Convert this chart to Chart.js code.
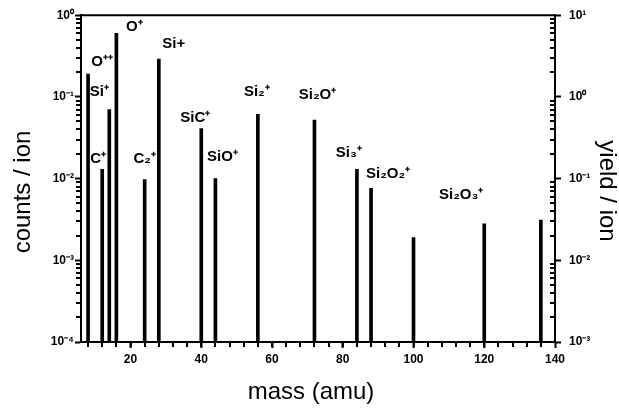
<!DOCTYPE html>
<html>
<head>
<meta charset="utf-8">
<script src="https://cdn.jsdelivr.net/npm/chart.js@4"></script>
<style>
  html, body { margin: 0; padding: 0; background: #fff; }
</style>
</head>
<body>
<canvas id="chart" width="619" height="411"></canvas>
<script>
// peaks (mass in amu, counts per ion)
const masses       = [8, 12, 14, 16, 24, 28, 40, 44, 56, 72, 84, 88, 100, 120, 136];
const countsPerIon = [0.19, 0.013, 0.07, 0.6, 0.0097, 0.29, 0.041, 0.010, 0.061, 0.052, 0.013, 0.0076, 0.0019, 0.0028, 0.0031];
const peakLabels   = ['O⁺⁺', 'C⁺', 'Si⁺', 'O⁺', 'C₂⁺', 'Si+', 'SiC⁺', 'SiO⁺', 'Si₂⁺', 'Si₂O⁺', 'Si₃⁺', 'Si₂O₂⁺', '', 'Si₂O₃⁺', ''];

const leftDecades   = [1e-4, 1e-3, 1e-2, 1e-1, 1];
const leftLabels    = ['10⁻⁴', '10⁻³', '10⁻²', '10⁻¹', '10⁰'];
const rightDecades  = [1e-3, 1e-2, 1e-1, 1, 10];
const rightLabels   = ['10⁻³', '10⁻²', '10⁻¹', '10⁰', '10¹'];
const massTicks     = [20, 40, 60, 80, 100, 120, 140];

// label nudges in px from the top of each bar
const labelOffsets = [[14,-12],[-4,-10],[-10,-18],[18,-6],[0,-21],[15,-15],[-6,-11],[7,-22],[-1,-23],[3,-25],[-8,-16],[17,-14],[0,0],[-23,-29],[0,0]];

const FONT = "'Liberation Sans', Arial, sans-serif";

const decadeLabel = (v, decades, labels) => {
  const i = decades.findIndex(d => Math.abs(Math.log10(v) - Math.log10(d)) < 1e-6);
  return i >= 0 ? labels[i] : '';
};

const frame = {
  id: 'frame',
  afterDraw(chart) {
    const { ctx, chartArea: a, scales } = chart;
    const seg = (x1, y1, x2, y2) => {
      ctx.beginPath(); ctx.moveTo(x1, y1); ctx.lineTo(x2, y2); ctx.stroke();
    };
    ctx.save();
    ctx.strokeStyle = '#000';
    ctx.lineWidth = 2;
    seg(a.left, a.top, a.right, a.top);   // top edge of the box

    // minor ticks
    ctx.lineWidth = 2;
    for (let j = 0; j < leftDecades.length - 1; j++) {
      for (let k = 2; k <= 9; k++) {
        const y = Math.round(scales.y.getPixelForValue(k * leftDecades[j]));
        seg(a.left - 5, y, a.left, y);
        const y2 = Math.round(scales.y2.getPixelForValue(k * rightDecades[j]));
        seg(a.right - 5, y2, a.right, y2);
      }
    }
    for (let v = 8; v <= 136; v += 4) {
      const x = Math.round(scales.x.getPixelForValue(v));
      seg(x, a.bottom, x, a.bottom + 5);
    }

    // peak labels
    ctx.fillStyle = '#000';
    ctx.font = 'bold 15px ' + FONT;
    ctx.textAlign = 'center';
    ctx.textBaseline = 'middle';
    masses.forEach((m, i) => {
      if (!peakLabels[i]) return;
      const x = scales.x.getPixelForValue(m) + labelOffsets[i][0];
      const y = scales.y.getPixelForValue(countsPerIon[i]) + labelOffsets[i][1];
      ctx.fillText(peakLabels[i], x, y);
    });

    // axis titles
    ctx.font = '24px ' + FONT;
    ctx.fillText('mass (amu)', 311, 392);
    ctx.save();
    ctx.translate(23, 192);
    ctx.rotate(-Math.PI / 2);
    ctx.fillText('counts / ion', 0, 0);
    ctx.restore();
    ctx.save();
    ctx.translate(607, 191);
    ctx.rotate(Math.PI / 2);
    ctx.fillText('yield / ion', 0, 0);
    ctx.restore();
    ctx.restore();
  }
};

const tickFont = { family: FONT, size: 12, weight: 'bold' };
const axisGrid = { drawOnChartArea: false, offset: false, color: '#000', tickLength: 6, tickWidth: 2 };
const axisBorder = { display: true, color: '#000', width: 2 };

new Chart(document.getElementById('chart'), {
  type: 'bar',
  data: {
    datasets: [{
      data: masses.map((m, i) => ({ x: m, y: countsPerIon[i] })),
      backgroundColor: '#000',
      barThickness: 3,
      yAxisID: 'y'
    }]
  },
  options: {
    responsive: false,
    animation: false,
    layout: { padding: { top: 13, left: 0, right: 0, bottom: 0 } },
    plugins: { legend: { display: false }, tooltip: { enabled: false } },
    scales: {
      x: {
        type: 'linear', min: 6, max: 140, offset: false,
        afterBuildTicks: s => { s.ticks = massTicks.map(v => ({ value: v })); },
        afterFit: s => { s.height = 69; },
        grid: axisGrid, border: axisBorder,
        ticks: {
          autoSkip: false, maxRotation: 0, padding: 4, color: '#000', font: tickFont,
          callback: v => String(v)
        }
      },
      y: {
        type: 'logarithmic', position: 'left', min: 1e-4, max: 1,
        afterBuildTicks: s => { s.ticks = leftDecades.map(v => ({ value: v, major: true })); },
        afterFit: s => { s.width = 81; },
        grid: axisGrid, border: axisBorder,
        ticks: {
          autoSkip: false, padding: 1, color: '#000', font: tickFont,
          callback: v => decadeLabel(v, leftDecades, leftLabels)
        }
      },
      y2: {
        type: 'logarithmic', position: 'right', min: 1e-3, max: 10, display: true,
        afterBuildTicks: s => { s.ticks = rightDecades.map(v => ({ value: v, major: true })); },
        afterFit: s => { s.width = 64; },
        grid: axisGrid, border: axisBorder,
        ticks: {
          autoSkip: false, padding: 8, color: '#000', font: tickFont,
          callback: v => decadeLabel(v, rightDecades, rightLabels)
        }
      }
    }
  },
  plugins: [frame]
});
</script>
</body>
</html>
